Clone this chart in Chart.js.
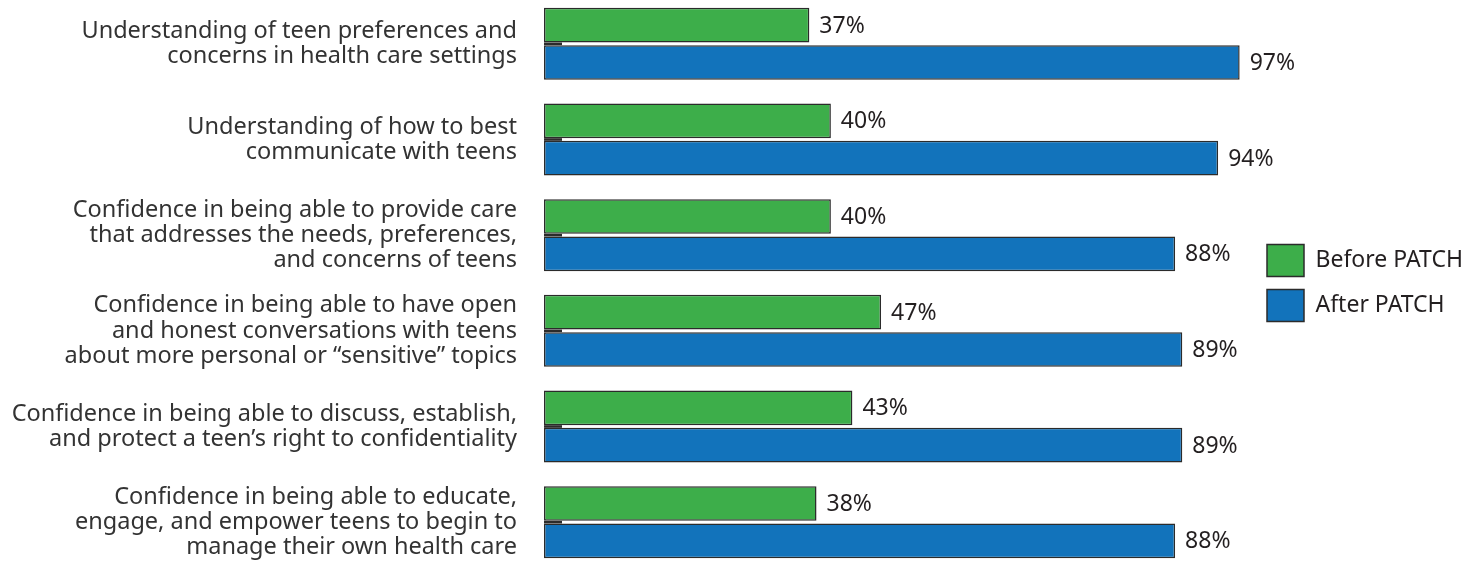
<!DOCTYPE html>
<html>
<head>
<meta charset="utf-8">
<script src="https://cdn.jsdelivr.net/npm/chart.js@4.4.1/dist/chart.umd.min.js"></script>
<style>
  html, body { margin: 0; padding: 0; background: #fff; overflow: hidden; }
  #wrap { position: absolute; left: 0; top: -4px; width: 1481px; height: 574px; }
</style>
</head>
<body>
<div id="wrap"><canvas id="myChart" width="1481" height="574"></canvas></div>
<script>
const categories = [
  ['Understanding of teen preferences and', 'concerns in health care settings'],
  ['Understanding of how to best', 'communicate with teens'],
  ['Confidence in being able to provide care', 'that addresses the needs, preferences,', 'and concerns of teens'],
  ['Confidence in being able to have open', 'and honest conversations with teens', 'about more personal or \u201csensitive\u201d topics'],
  ['Confidence in being able to discuss, establish,', 'and protect a teen\u2019s right to confidentiality'],
  ['Confidence in being able to educate,', 'engage, and empower teens to begin to', 'manage their own health care']
];
const beforePatch = [37, 40, 40, 47, 43, 38];
const afterPatch = [97, 94, 88, 89, 89, 88];

const FONT = '"Noto Sans", sans-serif';

// value labels at bar ends + small dark stub at the left between bars
const barLabels = {
  id: 'barLabels',
  afterDatasetsDraw(chart) {
    const c = chart.ctx;
    c.save();
    c.font = '23px ' + FONT;
    c.fillStyle = '#231f20';
    c.textBaseline = 'middle';
    c.textAlign = 'left';
    chart.data.datasets.forEach(function (ds, i) {
      chart.getDatasetMeta(i).data.forEach(function (bar, j) {
        c.fillText(ds.data[j] + '%', bar.x + 10, bar.y + 1);
      });
    });
    const g = chart.getDatasetMeta(0).data;
    const b = chart.getDatasetMeta(1).data;
    c.fillStyle = '#2b2b2b';
    g.forEach(function (bar, j) {
      const y0 = bar.y + bar.height / 2;
      const y1 = b[j].y - b[j].height / 2;
      c.fillRect(chart.chartArea.left, y0, 18, Math.max(2, y1 - y0));
    });
    c.restore();
  }
};

new Chart(document.getElementById('myChart'), {
  type: 'bar',
  data: {
    labels: categories,
    datasets: [{
      label: 'Before PATCH',
      data: beforePatch,
      backgroundColor: '#3dae4a',
      borderColor: '#2b2b2b',
      borderWidth: 1.5,
      borderSkipped: false
    }, {
      label: 'After PATCH',
      data: afterPatch,
      backgroundColor: '#1273bb',
      borderColor: '#2b2b2b',
      borderWidth: 1.5,
      borderSkipped: false
    }]
  },
  options: {
    indexAxis: 'y',
    responsive: false,
    animation: false,
    categoryPercentage: 0.78,
    barPercentage: 0.93,
    layout: { padding: { left: 0, right: 8, top: 0, bottom: 0 } },
    plugins: {
      tooltip: { enabled: false },
      legend: {
        position: 'right',
        align: 'center',
        labels: {
          boxWidth: 37,
          boxHeight: 32,
          padding: 13,
          color: '#231f20',
          font: { family: FONT, size: 23 }
        }
      }
    },
    scales: {
      x: {
        display: false,
        min: 0,
        max: 99
      },
      y: {
        grid: { display: false, drawTicks: false },
        border: { display: false },
        ticks: {
          padding: 27,
          color: '#333333',
          font: { family: FONT, size: 23.5, lineHeight: 1.07 }
        },
        afterFit(scale) {
          scale.width = 544;
          scale.paddingTop = 0;
          scale.paddingBottom = 0;
        }
      }
    }
  },
  plugins: [barLabels]
});
</script>
</body>
</html>
